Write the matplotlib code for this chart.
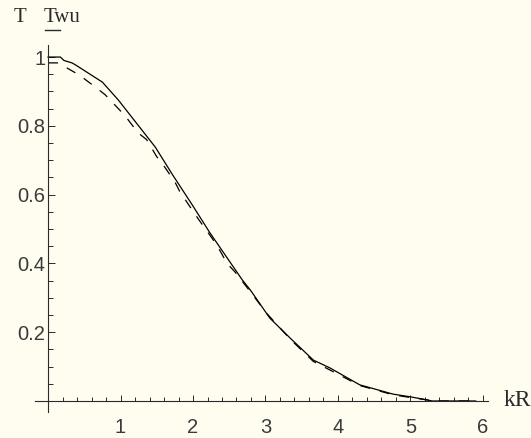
import matplotlib
matplotlib.use("Agg")
import matplotlib.pyplot as plt
from matplotlib.ticker import MultipleLocator, FixedLocator

# Data
x_solid = [0.0, 0.17, 0.22, 0.33, 0.38, 0.75, 0.97, 1.13, 1.48, 1.72, 1.99, 2.23,
           2.68, 2.79, 3.06, 3.34, 3.66, 3.89, 4.3, 4.76, 5.0, 5.16, 5.3, 5.9]
y_solid = [1.0, 1.0, 0.99, 0.983, 0.977, 0.927, 0.875, 0.832, 0.738, 0.657, 0.57, 0.49,
           0.352, 0.323, 0.241, 0.183, 0.119, 0.096, 0.047, 0.020, 0.012, 0.006, 0.0, 0.0]

x_dash = [0.0, 0.14, 0.37, 0.48, 0.7, 0.79, 0.97, 1.06, 1.24, 1.36, 1.5, 1.59, 1.75,
          1.82, 1.99, 2.07, 2.23, 2.33, 2.47, 2.58, 2.79, 3.02, 3.34, 3.66, 3.89, 4.3,
          4.76, 5.0, 5.2, 5.35, 5.9]
y_dash = [0.983, 0.983, 0.955, 0.94, 0.905, 0.89, 0.85, 0.83, 0.78, 0.76, 0.71, 0.686,
          0.637, 0.608, 0.555, 0.53, 0.483, 0.453, 0.40, 0.375, 0.318, 0.254, 0.18,
          0.115, 0.09, 0.045, 0.018, 0.01, 0.004, 0.0, 0.0]

x_ticks = [1, 2, 3, 4, 5, 6]
x_ticklabels = ["1", "2", "3", "4", "5", "6"]
y_ticks = [0.2, 0.4, 0.6, 0.8, 1.0]
y_ticklabels = ["0.2", "0.4", "0.6", "0.8", "1"]

bg = "#fffdf0"
ink = "#2a2a2a"
W, H = 531, 438
fig = plt.figure(figsize=(W / 100, H / 100), dpi=100, facecolor=bg)
ax = fig.add_axes([35 / W, 1 - 412 / H, (488 - 35) / W, (412 - 45) / H])
ax.set_facecolor(bg)
ax.set_xlim(-0.18, 6.07)
ax.set_ylim(-0.032, 1.035)

lw = 0.9
ax.plot(x_solid, y_solid, color="black", lw=lw, solid_joinstyle="round")
ax.plot(x_dash, y_dash, color="black", lw=lw, dashes=(8, 8))

for s in ["top", "right"]:
    ax.spines[s].set_visible(False)
ax.spines["left"].set_position(("data", 0))
ax.spines["bottom"].set_position(("data", 0))
for s in ["left", "bottom"]:
    ax.spines[s].set_linewidth(0.8)
    ax.spines[s].set_color(ink)

ax.xaxis.set_major_locator(FixedLocator(x_ticks))
ax.set_xticklabels(x_ticklabels)
ax.xaxis.set_minor_locator(MultipleLocator(0.2))
ax.yaxis.set_major_locator(FixedLocator(y_ticks))
ax.set_yticklabels(y_ticklabels)
ax.yaxis.set_minor_locator(MultipleLocator(0.05))

ax.tick_params(axis="x", which="both", direction="in", color=ink, width=0.7)
ax.tick_params(axis="x", which="major", length=4, pad=12)
ax.tick_params(axis="x", which="minor", length=3)
ax.tick_params(axis="y", which="both", direction="in", color=ink, width=0.7)
ax.tick_params(axis="y", which="major", length=5, pad=2)
ax.tick_params(axis="y", which="minor", length=3.5)

for lab in ax.get_xticklabels() + ax.get_yticklabels():
    lab.set_fontfamily("Liberation Sans")
    lab.set_fontsize(14.5)
    lab.set_color("#3a3a3a")

# Axis labels as in the reference
fig.text(504 / W, 1 - 400 / H, "kR", family="Liberation Serif", fontsize=17,
         va="center", ha="left", color=ink)
fig.text(14 / W, 1 - 18 / H, "T", family="Liberation Serif", fontsize=15,
         va="center", ha="left", color=ink)
fig.text(44 / W, 1 - 18 / H, "Twu", family="Liberation Serif", fontsize=15,
         va="center", ha="left", color=ink)
fig.add_artist(plt.Line2D([45 / W, 60 / W], [1 - 29.5 / H, 1 - 29.5 / H],
                          color=ink, lw=1.0))

fig.savefig("out.png", dpi=100, facecolor=bg)
